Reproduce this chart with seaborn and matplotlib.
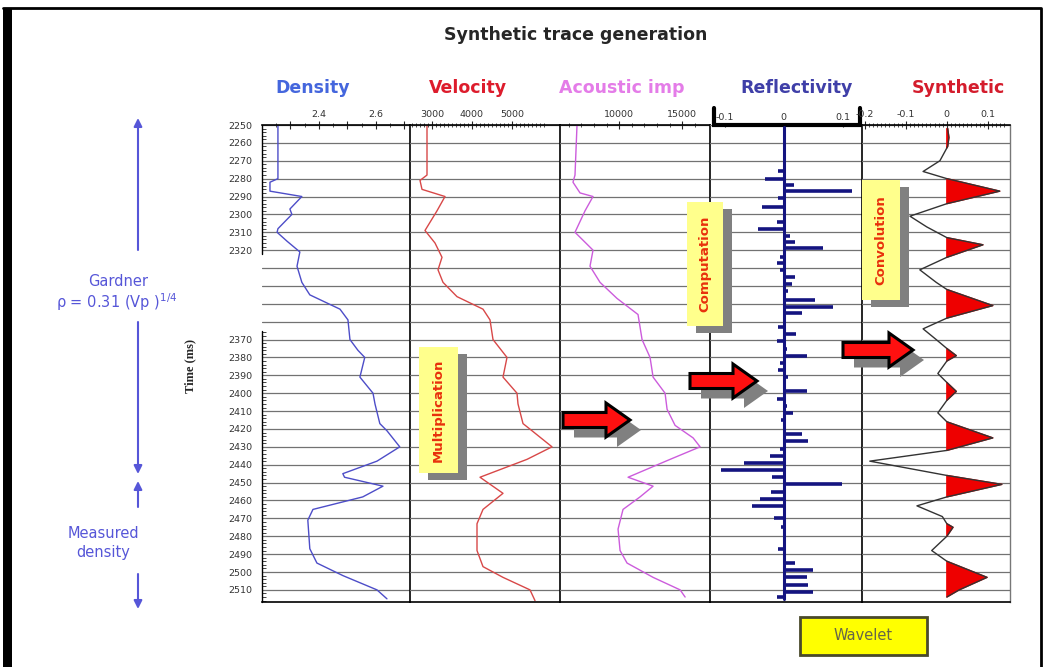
import numpy as np
import pandas as pd
import matplotlib
matplotlib.use('Agg')
import matplotlib.pyplot as plt
import seaborn as sns
from matplotlib.patches import Rectangle, FancyArrow
from matplotlib.ticker import FixedLocator, FixedFormatter
import matplotlib.transforms as mtransforms

# ---- data (two-way time in ms) ----
dens_t = [2250, 2280, 2282, 2287, 2290, 2297, 2300, 2308, 2310, 2315, 2321, 2329, 2338, 2345,
          2353, 2359, 2370, 2376, 2380, 2391, 2400, 2406, 2417, 2421, 2430, 2438, 2445, 2447,
          2452, 2458, 2465, 2471, 2487, 2495, 2502, 2510, 2515]
dens_v = [2.256, 2.256, 2.228, 2.228, 2.340, 2.298, 2.305, 2.256, 2.253, 2.288, 2.333, 2.323, 2.340, 2.368,
          2.474, 2.502, 2.509, 2.537, 2.561, 2.544, 2.590, 2.597, 2.614, 2.639, 2.684, 2.604, 2.484, 2.490,
          2.625, 2.554, 2.379, 2.361, 2.368, 2.393, 2.484, 2.604, 2.639]

vel_t = [2250, 2278, 2281, 2286, 2290, 2298, 2309, 2316, 2324, 2331, 2338, 2346, 2353, 2359, 2370,
         2380, 2391, 2400, 2406, 2417, 2421, 2430, 2437, 2447, 2456, 2465, 2473, 2488, 2497, 2503,
         2510, 2516]
vel_v = [2875, 2875, 2700, 2750, 3325, 3125, 2825, 3075, 3250, 3150, 3275, 3625, 4275, 4450, 4525,
         4875, 4775, 5125, 5150, 5275, 5500, 6000, 5375, 4200, 4775, 4275, 4125, 4125, 4275, 4775,
         5450, 5575]

ai_t = [2250, 2278, 2282, 2288, 2290, 2298, 2310, 2320, 2329, 2338, 2347, 2356, 2363, 2370, 2380,
        2391, 2400, 2409, 2418, 2425, 2430, 2437, 2447, 2452, 2458, 2465, 2476, 2488, 2495, 2503,
        2510, 2514]
ai_v = [6650, 6490, 6330, 6890, 7920, 7285, 6490, 7920, 7680, 8475, 9825, 11490, 11650, 11810, 12445,
        12685, 13635, 13795, 14430, 15860, 16415, 14035, 10700, 12685, 11650, 10300, 9905, 10065, 10620, 12685,
        14830, 15225]

refl_t = [2276, 2280, 2283.5, 2287, 2291, 2296, 2304, 2308, 2312, 2315.5, 2319, 2324, 2327, 2331, 2335,
          2339, 2343, 2348, 2352, 2355, 2363, 2367, 2371, 2375, 2379, 2383, 2387, 2391, 2399, 2403,
          2407, 2411, 2415, 2423, 2427, 2431, 2435, 2439, 2443, 2447, 2451, 2455, 2459, 2463, 2470,
          2475, 2487, 2495, 2499, 2503, 2507, 2511, 2514]
refl_v = [-0.009, -0.031, 0.017, 0.116, -0.009, -0.036, -0.011, -0.043, 0.011, 0.020, 0.067, -0.007, -0.011, -0.007, 0.020,
          0.014, 0.008, 0.054, 0.084, 0.031, -0.009, 0.021, -0.011, 0.006, 0.040, -0.006, -0.009, 0.008, 0.040, -0.012,
          0.006, 0.016, -0.004, 0.031, 0.041, -0.006, -0.023, -0.068, -0.106, -0.020, 0.099, -0.021, -0.040, -0.053, -0.016,
          -0.004, -0.009, 0.020, 0.050, 0.040, 0.041, 0.050, -0.011]

syn_t = [2252, 2257, 2262, 2270, 2276, 2280, 2287, 2294, 2301, 2307, 2313, 2317, 2324, 2331, 2338,
         2342, 2351, 2358, 2364, 2370, 2375, 2379, 2382, 2389, 2394, 2399, 2404, 2411, 2416, 2425,
         2432, 2438, 2446, 2451, 2458, 2463, 2469, 2473, 2475, 2480, 2488, 2494, 2503, 2510, 2514]
syn_v = [0.002, 0.005, 0.002, -0.017, -0.058, 0.0, 0.129, 0.0, -0.090, -0.049, 0.0, 0.088, 0.0, -0.066, -0.026,
         0.0, 0.112, 0.0, -0.058, -0.026, 0.0, 0.023, 0.0, -0.022, 0.0, 0.023, 0.0, -0.022, 0.0, 0.112,
         0.0, -0.188, 0.0, 0.134, 0.0, -0.073, -0.011, 0.0, 0.015, 0.0, -0.037, 0.0, 0.098, 0.030, 0.0]

titles = ['Density', 'Velocity', 'Acoustic imp', 'Reflectivity', 'Synthetic']
title_colors = ['#4466dd', '#dd1c2c', '#e47ce8', '#3f3fa8', '#d41c2c']
title_x = [313, 468, 622, 797, 958]
grid_times = list(range(2250, 2511, 10))
ylab_times = [t for t in grid_times if t <= 2320 or t >= 2370]

sns.set_style('white')
plt.rcParams['font.family'] = ['DejaVu Sans']

W, H = 1064, 667
fig = plt.figure(figsize=(W / 100, H / 100), dpi=100)

panel_px = [(262, 410), (410, 560), (560, 710), (710, 862), (862, 1010)]
top_px, bot_px = 125, 602
ylim = (2250 + (bot_px - top_px) / 1.788, 2250)
xlims = [(2.2, 2.72), (2450, 6200), (5300, 17200), (-0.125, 0.133), (-0.207, 0.154)]

axes = []
for i, (x0, x1) in enumerate(panel_px):
    ax = fig.add_axes([x0 / W, 1 - bot_px / H, (x1 - x0) / W, (bot_px - top_px) / H])
    ax.set_facecolor('none')
    axes.append(ax)

# curves
sns.lineplot(x=dens_v, y=dens_t, orient='y', sort=False, estimator=None, ax=axes[0], color='#4d4dc8', lw=1)
sns.lineplot(x=vel_v, y=vel_t, orient='y', sort=False, estimator=None, ax=axes[1], color='#d84848', lw=1)
sns.lineplot(x=ai_v, y=ai_t, orient='y', sort=False, estimator=None, ax=axes[2], color='#cc5cdc', lw=1)

axr = axes[3]
axr.plot([0, 0], [2251, 2515], color='#141480', lw=2.2, zorder=3)
axr.hlines(refl_t, 0, refl_v, color='#141480', lw=2.6, zorder=3)

axs = axes[4]
sv = np.array(syn_v)
axs.fill_betweenx(syn_t, 0, sv, where=sv > 0, interpolate=True, color='#ee0000', zorder=2)
sns.lineplot(x=syn_v, y=syn_t, orient='y', sort=False, estimator=None, ax=axs, color='#333333', lw=1)

for i, ax in enumerate(axes):
    ax.set_xlim(*xlims[i])
    ax.set_ylim(*ylim)
    ax.set_xlabel('')
    ax.set_ylabel('')
    ax.set_yticks(grid_times)
    ax.yaxis.grid(True, color='#727272', lw=0.9, zorder=0)
    ax.xaxis.grid(False)
    ax.set_axisbelow(True)
    ax.xaxis.tick_top()
    for s in ax.spines.values():
        s.set_color('black')
        s.set_linewidth(1.2)
    ax.spines['left'].set_visible(False)
    if i == 4:
        ax.spines['right'].set_color('#777777')
        ax.spines['right'].set_linewidth(1)
    ax.tick_params(axis='x', which='major', direction='inout', length=6, width=0.8, pad=1,
                   labelsize=6.8, labelcolor='#333333')
    ax.tick_params(axis='x', which='minor', direction='inout', length=3, width=0.6)
    if i > 0:
        ax.tick_params(axis='y', which='both', left=False, labelleft=False)

# top scales
axes[0].xaxis.set_major_locator(FixedLocator([2.3, 2.4, 2.5, 2.6, 2.7]))
axes[0].xaxis.set_major_formatter(FixedFormatter(['', '2.4', '', '2.6', '']))
axes[0].xaxis.set_minor_locator(FixedLocator(np.arange(2.25, 2.71, 0.05)))
axes[1].xaxis.set_major_locator(FixedLocator([3000, 4000, 5000]))
axes[1].xaxis.set_major_formatter(FixedFormatter(['3000', '4000', '5000']))
axes[1].xaxis.set_minor_locator(FixedLocator(np.arange(2500, 5900, 100)))
axes[2].xaxis.set_major_locator(FixedLocator([10000, 15000]))
axes[2].xaxis.set_major_formatter(FixedFormatter(['10000', '15000']))
axes[2].xaxis.set_minor_locator(FixedLocator(np.arange(6000, 16100, 1000)))
axes[3].xaxis.set_major_locator(FixedLocator([-0.1, 0, 0.1]))
axes[3].xaxis.set_major_formatter(FixedFormatter(['-0.1', '0', '0.1']))
axes[3].tick_params(axis='x', which='major', length=3)
axes[4].xaxis.set_major_locator(FixedLocator([-0.2, -0.1, 0, 0.1]))
axes[4].xaxis.set_major_formatter(FixedFormatter(['-0.2', '-0.1', '0', '0.1']))
axes[4].xaxis.set_minor_locator(FixedLocator(np.arange(-0.2, 0.145, 0.01)))

# reflectivity bracket on top
axr.spines['top'].set_visible(False)
bx0, bx1 = (714 - 710) / 152, (860 - 710) / 152
axr.plot([bx0, bx0, bx1, bx1], [1.036, 1.0, 1.0, 1.036], transform=axr.transAxes,
         color='black', lw=3, clip_on=False, solid_joinstyle='miter')

# time axis on the first panel: broken spine, ticks only where labelled
ax0 = axes[0]
ax0.yaxis.set_major_formatter(FixedFormatter([str(t) if t in ylab_times else '' for t in grid_times]))
ax0.tick_params(axis='y', which='major', direction='out', length=5, width=0.9, pad=2,
                labelsize=6.8, labelcolor='#333333')
ax0.tick_params(axis='y', which='minor', direction='in', length=3, width=0.6, left=True)
for t, tick in zip(grid_times, ax0.yaxis.get_major_ticks()):
    if t not in ylab_times:
        tick.tick1line.set_visible(False)
minor_t = [t for t in range(2250, 2517, 2) if t % 10 and (t < 2322 or t > 2364)]
ax0.yaxis.set_minor_locator(FixedLocator(minor_t))
trans = mtransforms.blended_transform_factory(ax0.transAxes, ax0.transData)
ax0.plot([0, 0], [2250, 2322], transform=trans, color='black', lw=1, clip_on=False)
ax0.plot([0, 0], [2365, ylim[0]], transform=trans, color='black', lw=1, clip_on=False)

# ---- overlay in pixel coordinates for annotations ----
ov = fig.add_axes([0, 0, 1, 1], zorder=10)
ov.set_xlim(0, W)
ov.set_ylim(H, 0)
ov.axis('off')
ov.set_facecolor('none')

# page frame
ov.add_patch(Rectangle((3, 8), 9, H, fc='black', ec='none'))
ov.plot([3, 1041, 1041], [8, 8, H], color='black', lw=2)

ov.text(576, 35, 'Synthetic trace generation', ha='center', va='center', fontsize=12.5, fontweight='bold')
for x, t, c in zip(title_x, titles, title_colors):
    ov.text(x, 88, t, ha='center', va='center', fontsize=12.5, fontweight='bold', color=c)

ov.text(190, 366, 'Time (ms)', rotation=90, ha='center', va='center', fontsize=9,
        fontweight='bold', family='Liberation Serif')

blue = '#5656d8'
arr = dict(arrowstyle='-|>', color=blue, lw=1.5, mutation_scale=12, shrinkA=0, shrinkB=0)
ov.annotate('', xy=(138, 118), xytext=(138, 250), arrowprops=arr)
ov.annotate('', xy=(138, 474), xytext=(138, 322), arrowprops=arr)
ov.annotate('', xy=(138, 481), xytext=(138, 507), arrowprops=arr)
ov.annotate('', xy=(138, 609), xytext=(138, 574), arrowprops=arr)
ov.text(118, 282, 'Gardner', ha='center', va='center', fontsize=10.5, color=blue)
ov.text(117, 302, r'ρ = 0.31 (Vp )$^{1/4}$', ha='center', va='center', fontsize=10.5, color=blue)
ov.text(103, 533, 'Measured', ha='center', va='center', fontsize=10.5, color=blue)
ov.text(103, 553, 'density', ha='center', va='center', fontsize=10.5, color=blue)

# sticky notes
for x0, y0, w, h, label in [(419, 347, 39, 126, 'Multiplication'),
                            (687, 202, 36, 124, 'Computation'),
                            (862, 180, 38, 120, 'Convolution')]:
    ov.add_patch(Rectangle((x0 + 9, y0 + 7), w, h, fc='#808080', ec='none'))
    ov.add_patch(Rectangle((x0, y0), w, h, fc='#ffff8c', ec='none'))
    ov.text(x0 + w / 2, y0 + h / 2, label, rotation=90, ha='center', va='center',
            fontsize=9.5, fontweight='bold', color='#e8300c')

# block arrows
for x0, y0, x1 in [(563, 420, 630), (690, 381, 757), (843, 350, 913)]:
    ov.add_patch(FancyArrow(x0 + 11, y0 + 10, x1 - x0, 0, width=15, head_width=34, head_length=24,
                            length_includes_head=True, fc='#808080', ec='none'))
    ov.add_patch(FancyArrow(x0, y0, x1 - x0, 0, width=15, head_width=34, head_length=24,
                            length_includes_head=True, fc='#ff1010', ec='black', lw=2.2))

# wavelet box
ov.add_patch(Rectangle((800, 617), 127, 38, fc='#ffff00', ec='#4a4a2a', lw=2))
ov.text(863, 636, 'Wavelet', ha='center', va='center', fontsize=10.5, color='#66664a')

fig.savefig('out.png', dpi=100)
